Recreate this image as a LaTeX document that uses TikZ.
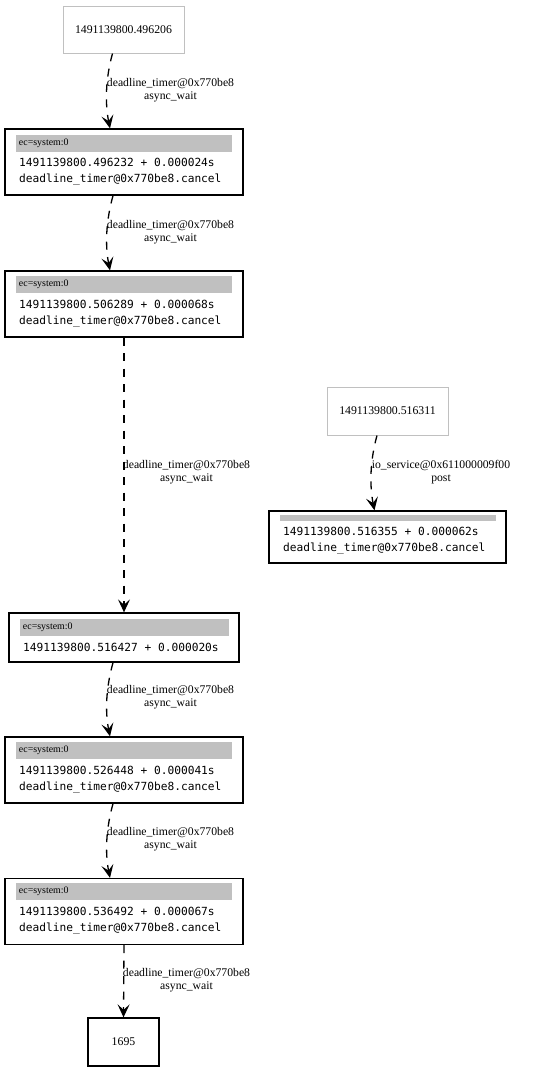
\documentclass[tikz,border=0pt]{standalone}
\usepackage{fontspec}
\setmainfont{Liberation Serif}
\setmonofont{DejaVu Sans Mono}
\usetikzlibrary{arrows.meta}
\definecolor{barg}{HTML}{C0C0C0}
\begin{document}
\begin{tikzpicture}[x=1pt,y=-1pt,
  plainbox/.style={draw=barg,line width=1pt,inner sep=0pt,minimum width=121pt,minimum height=47pt,font=\fontsize{11.8}{13}\selectfont},
  recbox/.style={draw=black,line width=1.3pt,inner sep=0pt,minimum width=238pt,minimum height=66pt},
  bar/.style={fill=barg,inner ysep=0pt,inner xsep=3pt,text width=210pt,align=left,minimum height=17pt,font=\fontsize{9.9}{10}\selectfont},
  mono/.style={anchor=west,inner sep=0pt,font=\ttfamily\fontsize{11.2}{12}\selectfont},
  elabel/.style={align=center,inner sep=0pt,font=\fontsize{11.7}{13.2}\selectfont},
  conn/.style={line width=1.3pt,dash pattern=on 8pt off 7.5pt,-{Stealth[length=13pt,width=12pt,inset=5.5pt]}}
]
\useasboundingbox (0,0) rectangle (543,1072);
\fill[white] (0,0) rectangle (543,1072);

% nodes
\node[plainbox] (n0) at (123.5,29.5) {1491139800.496206};

\node[recbox] (n1) at (124,162) {};
\node[bar] (b1) at (124,143.5) {ec=system:0};
\node[mono] (t1a) at (19,162) {1491139800.496232 + 0.000024s};
\node[mono] (t1b) at (19,180) {deadline\_timer@0x770be8.cancel};

\node[recbox] (n2) at (124,304) {};
\node[bar] (b2) at (124,284.5) {ec=system:0};
\node[mono] (t2a) at (19,304) {1491139800.506289 + 0.000068s};
\node[mono] (t2b) at (19,322) {deadline\_timer@0x770be8.cancel};

\node[recbox,minimum width=230pt,minimum height=49pt] (n3) at (124,637.5) {};
\node[bar,text width=203pt] (b3) at (124.5,627) {ec=system:0};
\node[mono] (t3a) at (23,647.5) {1491139800.516427 + 0.000020s};

\node[plainbox,minimum height=48pt] (n4) at (387.5,411) {1491139800.516311};

\node[recbox,minimum width=237pt,minimum height=52pt] (n5) at (387.5,537) {};
\node[fill=barg,inner sep=0pt,minimum width=216pt,minimum height=6pt] (b5) at (388,518) {};
\node[mono] (t5a) at (283,531) {1491139800.516355 + 0.000062s};
\node[mono] (t5b) at (283,549) {deadline\_timer@0x770be8.cancel};

\node[recbox] (n6) at (124,770) {};
\node[bar] (b6) at (124,750) {ec=system:0};
\node[mono] (t6a) at (19,770) {1491139800.526448 + 0.000041s};
\node[mono] (t6b) at (19,788) {deadline\_timer@0x770be8.cancel};

\node[recbox] (n7) at (124,911.5) {};
\node[bar] (b7) at (124,891) {ec=system:0};
\node[mono] (t7a) at (19,911) {1491139800.536492 + 0.000067s};
\node[mono] (t7b) at (19,929) {deadline\_timer@0x770be8.cancel};

\node[recbox,minimum width=71pt,minimum height=48pt,font=\fontsize{11.8}{13}\selectfont] (n8) at (123.5,1042) {1695};

% connectors
\draw[conn] ([xshift=-11pt]n0.south) .. controls +(-7,25) and +(-5,-25) .. ([xshift=-14pt]n1.north);
\node[elabel] (l0) at (170.5,90) {deadline\_timer@0x770be8\\async\_wait};

\draw[conn] ([xshift=-11pt]n1.south) .. controls +(-7,25) and +(-5,-25) .. ([xshift=-14pt]n2.north);
\node[elabel] (l1) at (170.5,232.5) {deadline\_timer@0x770be8\\async\_wait};

\draw[conn] (n2.south) -- (n3.north);
\node[elabel] (l2) at (186.5,472.5) {deadline\_timer@0x770be8\\async\_wait};

\draw[conn] ([xshift=-10.5pt]n4.south) .. controls +(-7,25) and +(-5,-25) .. ([xshift=-13pt]n5.north);
\node[elabel] (l3) at (441,472.5) {io\_service@0x611000009f00\\post};

\draw[conn] ([xshift=-11pt]n3.south) .. controls +(-7,25) and +(-5,-25) .. ([xshift=-14pt]n6.north);
\node[elabel] (l4) at (170.5,697) {deadline\_timer@0x770be8\\async\_wait};

\draw[conn] ([xshift=-11pt]n6.south) .. controls +(-7,25) and +(-5,-25) .. ([xshift=-14pt]n7.north);
\node[elabel] (l5) at (170.5,839) {deadline\_timer@0x770be8\\async\_wait};

\draw[conn] (n7.south) -- (n8.north);
\node[elabel] (l6) at (186.5,980) {deadline\_timer@0x770be8\\async\_wait};
\end{tikzpicture}
\end{document}
